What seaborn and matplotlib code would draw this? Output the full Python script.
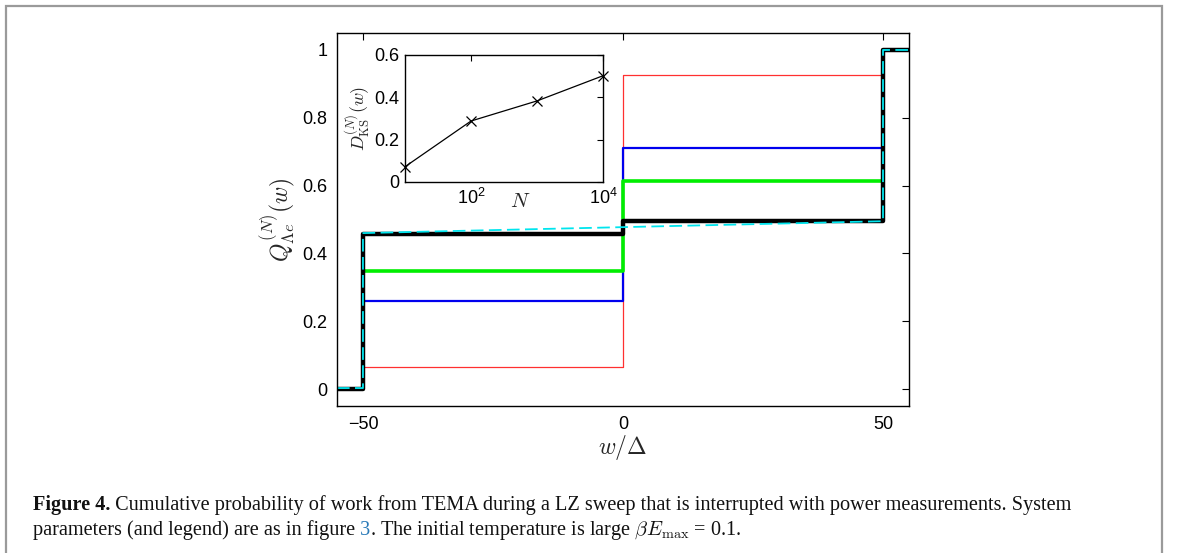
import numpy as np
import pandas as pd
import matplotlib.pyplot as plt
import matplotlib.patches as mpatches
import seaborn as sns

# step values of Q(w), w/Delta break points
w_edges = [-55, -50, 0, 50, 55]
q_red = [0.0, 0.066, 0.926, 1.0, 1.0]
q_blue = [0.0, 0.260, 0.712, 1.0, 1.0]
q_green = [0.0, 0.347, 0.615, 1.0, 1.0]
q_black = [0.0, 0.458, 0.496, 1.0, 1.0]

# dashed cyan curve (ramps between the two jumps)
w_cyan = [-55, -50, -50, 50, 50, 55]
q_cyan = [0.003, 0.003, 0.460, 0.495, 1.0, 1.0]

# inset: KS distance vs N
n_vals = [10, 100, 1000, 10000]
d_ks = [0.072, 0.288, 0.383, 0.502]

sns.set_theme(style='white')
plt.rcParams['font.family'] = ['Liberation Sans', 'DejaVu Sans']
plt.rcParams['mathtext.fontset'] = 'cm'
plt.rcParams['xtick.direction'] = 'in'
plt.rcParams['ytick.direction'] = 'in'
plt.rcParams['axes.edgecolor'] = 'black'
plt.rcParams['axes.linewidth'] = 1.0

fig = plt.figure(figsize=(11.79, 5.53), dpi=100)
fig.patch.set_facecolor('white')

ax = fig.add_axes([0.2858, 0.2658, 0.4852, 0.6745])
series = [(q_red, '#ff3030', 0.9), (q_blue, '#0000ee', 1.6),
          (q_green, '#00ee00', 2.6), (q_black, 'black', 3.2)]
for vals, col, lw in series:
    sns.lineplot(x=w_edges, y=vals, ax=ax, color=col, lw=lw,
                 drawstyle='steps-post', estimator=None, sort=False)
sns.lineplot(x=w_cyan, y=q_cyan, ax=ax, color='#00e5ee', lw=1.3,
             linestyle=(0, (7, 3)), estimator=None, sort=False)

ax.set_xlim(-55, 55)
ax.set_ylim(-0.05, 1.05)
ax.set_xticks([-50, 0, 50])
ax.set_yticks([0, 0.2, 0.4, 0.6, 0.8, 1.0])
ax.set_yticklabels(['0', '0.2', '0.4', '0.6', '0.8', '1'])
ax.tick_params(top=True, right=True, length=5, width=0.8, labelsize=13,
               colors='black', pad=7)
ax.set_xlabel(r'$w/\Delta$', fontsize=17, labelpad=0)
ax.set_ylabel(r'$Q^{(N)}_{\Lambda e}(w)$', fontsize=17, labelpad=4)

# inset
axi = fig.add_axes([0.3435, 0.6709, 0.168, 0.2297])
sns.lineplot(x=n_vals, y=d_ks, ax=axi, color='black', lw=0.9,
             marker='x', markersize=7, markeredgecolor='black',
             markeredgewidth=0.9, estimator=None, sort=False, clip_on=False)
axi.set_xscale('log')
axi.set_xlim(10, 10000)
axi.set_ylim(0, 0.6)
axi.set_xticks([100, 10000])
axi.set_xticklabels([r'$\mathdefault{10^{2}}$', r'$\mathdefault{10^{4}}$'])
axi.xaxis.set_minor_locator(plt.NullLocator())
axi.set_yticks([0, 0.2, 0.4, 0.6])
axi.set_yticklabels(['0', '0.2', '0.4', '0.6'])
axi.tick_params(top=True, right=True, length=4, width=0.8, labelsize=13,
                colors='black', pad=4)
axi.set_xlabel(r'$N$', fontsize=15)
axi.xaxis.set_label_coords(0.58, -0.08)
axi.set_ylabel(r'$D^{(N)}_{\rm KS}(w)$', fontsize=13, labelpad=1)

# frame round the whole figure
fig.patches.append(mpatches.Rectangle((0.0047, -0.05), 0.981, 1.039,
                                      transform=fig.transFigure, fill=False,
                                      edgecolor='#9a9a9a', lw=1.6))

# caption, pieced together so parts can be bold or blue
cap_fs = 14.6
serif = ['Liberation Serif', 'DejaVu Serif']
renderer = fig.canvas.get_renderer()


def put_line(x0, y0, parts):
    x = x0
    for txt, weight, col in parts:
        t = fig.text(x, y0, txt, fontsize=cap_fs, family=serif,
                     weight=weight, color=col, va='baseline', ha='left')
        bb = t.get_window_extent(renderer=renderer)
        x = bb.x1 / fig.bbox.width


put_line(33 / 1179, 1 - 510 / 553,
         [('Figure 4.', 'bold', '#111111'),
          (' Cumulative probability of work from TEMA during a LZ sweep that is '
           'interrupted with power measurements. System', 'normal', '#111111')])
put_line(33 / 1179, 1 - 535 / 553,
         [('parameters (and legend) are as in figure', 'normal', '#111111'),
          (' 3', 'normal', '#2a7ab8'),
          (r'. The initial temperature is large $\beta E_{\rm max}$ = 0.1.',
           'normal', '#111111')])

fig.savefig('out.png', dpi=100)
